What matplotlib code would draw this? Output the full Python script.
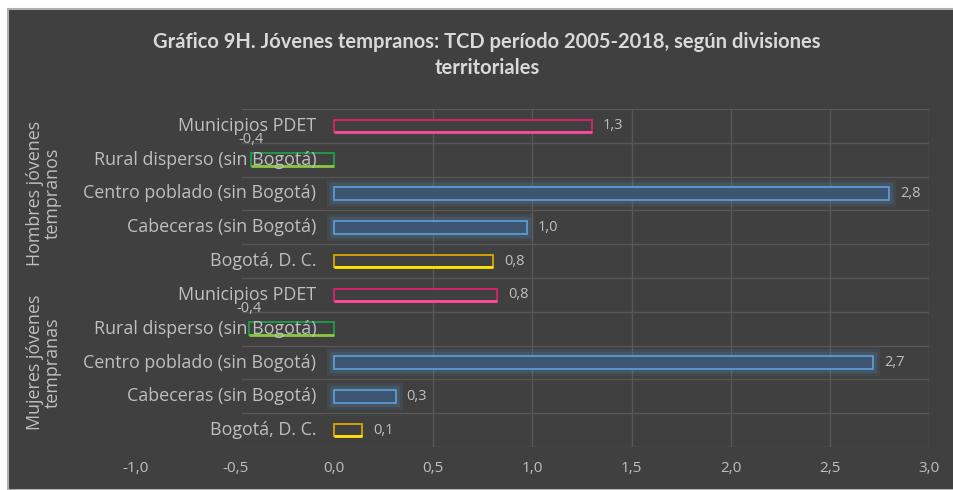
import numpy as np
import matplotlib.pyplot as plt
import matplotlib.patheffects as pe
from matplotlib.patches import Rectangle

# Data
categories = ["Municipios PDET", "Rural disperso (sin Bogotá)", "Centro poblado (sin Bogotá)",
              "Cabeceras (sin Bogotá)", "Bogotá, D. C."]
groups = ["Hombres jóvenes\ntempranos", "Mujeres jóvenes\ntempranas"]
hombres = [1.30, -0.42, 2.80, 0.97, 0.80]
mujeres = [0.82, -0.43, 2.72, 0.31, 0.14]
xticks = [-1.0, -0.5, 0.0, 0.5, 1.0, 1.5, 2.0, 2.5, 3.0]
title = "Gráfico 9H. Jóvenes tempranos: TCD período 2005-2018, según divisiones\nterritoriales"

# Styles per category (edge, fill, bottom highlight, glow)
edge = ["#e0206a", "#1f9e4a", "#5b9bd5", "#5b9bd5", "#d9a600"]
fill = ["#404040", "#404040", "#3d5570", "#3d5570", "#404040"]
hilite = ["#ff4a9c", "#8cc63f", None, None, "#ffe600"]
glow = [False, False, True, True, False]

BG = "#404040"
TXT = "#bfbfbf"
GRID = "#575757"
plt.rcParams['font.family'] = ['Open Sans', 'DejaVu Sans']

fig = plt.figure(figsize=(9.54, 4.9), dpi=100)
fig.patch.set_facecolor("white")
fig.patches.append(Rectangle((8/954, 0), 1, 1 - 9/490, transform=fig.transFigure,
                             facecolor=BG, edgecolor="#b0b0b0", lw=1.5, zorder=-10))

ax = fig.add_axes([136/954, 1 - 447/490, (929 - 136)/954, (447 - 109)/490])
ax.set_facecolor("none")
for s in ax.spines.values():
    s.set_visible(False)

values = hombres + mujeres
labels = categories + categories
n = len(values)
ypos = np.arange(n)
h = 0.37

# grid
ax.hlines(np.arange(n + 1) - 0.5, -0.47, 3.0, color=GRID, lw=1, zorder=1)
ax.vlines([0.5, 1.0, 1.5, 2.0, 2.5, 3.0], -0.5, n - 0.5, color=GRID, lw=1, zorder=1)

for i, (v, y) in enumerate(zip(values, ypos)):
    k = i % 5
    effects = [pe.Normal()]
    if glow[k]:
        effects = [pe.Stroke(linewidth=10, foreground=edge[k], alpha=0.1),
                   pe.Stroke(linewidth=6, foreground=edge[k], alpha=0.15),
                   pe.Normal()]
    b = ax.barh(y, v, height=h, color=fill[k], edgecolor=edge[k], lw=1.3, zorder=3)
    for r in b:
        r.set_path_effects(effects)
    if hilite[k]:
        ax.plot([0, v], [y + h/2, y + h/2], color=hilite[k], lw=2, zorder=4,
                solid_capstyle="butt")
    lab = "{:.1f}".format(v).replace(".", ",")
    if v >= 0:
        ax.annotate(lab, (v, y), xytext=(11, 0), textcoords="offset pixels",
                    ha="left", va="center", color=TXT, fontsize=10.5, zorder=5)
    else:
        ax.annotate(lab, (v, y), xytext=(0, 20), textcoords="offset pixels",
                    ha="center", va="center", color=TXT, fontsize=10.5, zorder=5)

# category labels next to the axis
for lab, y in zip(labels, ypos):
    ax.annotate(lab, (0, y), xytext=(-18, 0), textcoords="offset pixels",
                ha="right", va="center", color=TXT, fontsize=12.9, zorder=6)

# group labels
for g, yc in zip(groups, [2, 7]):
    ax.annotate(g, (0, yc), xycoords=("figure fraction", "data"),
                xytext=(44, 0), textcoords="offset pixels",
                rotation=90, ha="center", va="center", color=TXT, fontsize=12.9,
                multialignment="center", linespacing=0.95)

ax.set_xlim(-1, 3)
ax.set_ylim(n - 0.5, -0.5)
ax.set_yticks([])
ax.set_xticks(xticks)
ax.set_xticklabels(["{:.1f}".format(t).replace(".", ",") for t in xticks])
ax.tick_params(axis="x", length=0, pad=10, labelcolor=TXT, labelsize=11)

fig.text(487/954, 1 - 55/490, title, ha="center", va="center", color="#d9d9d9",
         fontsize=14.5, fontweight="bold", linespacing=1.4, family=['Lato', 'DejaVu Sans'])

fig.savefig("out.png", dpi=100)
